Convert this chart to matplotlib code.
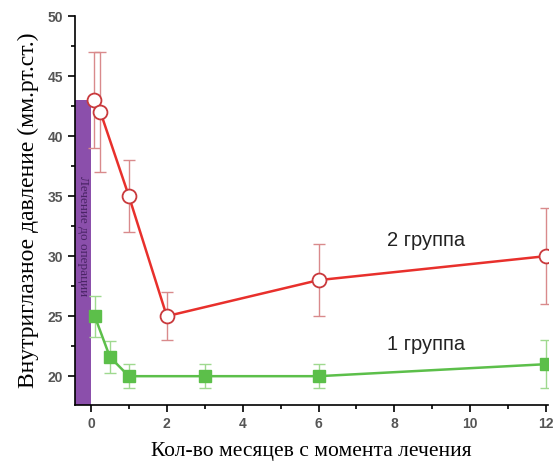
import matplotlib.pyplot as plt
from matplotlib.ticker import MultipleLocator
from matplotlib.patches import Rectangle

# group 2 (red, open circles)
t2 = [0.08, 0.25, 1, 2, 6, 12]
v2 = [43, 42, 35, 25, 28, 30]
e2 = [4, 5, 3, 2, 3, 4]

# group 1 (green, squares)
t1 = [0.1, 0.5, 1, 3, 6, 12]
v1 = [25, 21.6, 20, 20, 20, 21]
e1 = [1.7, 1.3, 1, 1, 1, 2]

pre_top = 43
xticks = [0, 2, 4, 6, 8, 10, 12]
yticks = [20, 25, 30, 35, 40, 45, 50]

fig = plt.figure(figsize=(5.53, 4.63), dpi=100)
ax = fig.add_axes([75/553, 1-405/463, 473/553, 389/463])
ax.set_xlim(-0.42, 12.05)
ax.set_ylim(17.6, 50)

# pre-operation treatment band
ax.add_patch(Rectangle((-0.42, 17.6), 0.42, pre_top - 17.6, facecolor='#8b4fab',
                       edgecolor='none', zorder=1))
ax.text(-0.21, 31.7, 'Лечение до операции', rotation=270, ha='center', va='center',
        fontsize=9.5, family='Liberation Serif', color='#4a2466', zorder=2)

ax.errorbar(t2, v2, yerr=e2, fmt='none', ecolor='#d98a8c', elinewidth=1,
            capsize=4, capthick=1, zorder=3)
ax.plot(t2, v2, '-', color='#e8302c', lw=1.8, zorder=4)
ax.plot(t2, v2, 'o', ms=10, mfc='white', mec='#c9393c', mew=1.3, zorder=5)

ax.errorbar(t1, v1, yerr=e1, fmt='none', ecolor='#9fd98f', elinewidth=1,
            capsize=4, capthick=1, zorder=3)
ax.plot(t1, v1, '-', color='#5cbf4a', lw=1.8, zorder=4)
ax.plot(t1, v1, 's', ms=8, mfc='#5cbf4a', mec='#5cbf4a', zorder=5)

ax.text(7.8, 31.3, '2 группа', fontsize=14.5, family='Liberation Sans', color='#222222',
        ha='left', va='center')
ax.text(7.8, 22.6, '1 группа', fontsize=14.5, family='Liberation Sans', color='#222222',
        ha='left', va='center')

ax.set_xticks(xticks)
ax.set_yticks(yticks)
ax.xaxis.set_minor_locator(MultipleLocator(1))
ax.yaxis.set_minor_locator(MultipleLocator(2.5))
ax.tick_params(which='major', direction='out', length=5, width=1.2,
               labelsize=10, labelcolor='#555555')
ax.tick_params(which='minor', direction='out', length=3, width=1.2)
for lab in ax.get_xticklabels() + ax.get_yticklabels():
    lab.set_family('Liberation Sans')
    lab.set_fontweight('bold')
ax.spines['top'].set_visible(False)
ax.spines['right'].set_visible(False)
ax.spines['left'].set_linewidth(1.2)
ax.spines['bottom'].set_linewidth(1.2)

ax.set_xlabel('Кол-во месяцев с момента лечения', family='Liberation Serif',
              fontsize=15.5, labelpad=8)
ax.set_ylabel('Внутриглазное давление (мм.рт.ст.)', family='Liberation Serif',
              fontsize=17, labelpad=6)

fig.savefig('out.png', dpi=100)
